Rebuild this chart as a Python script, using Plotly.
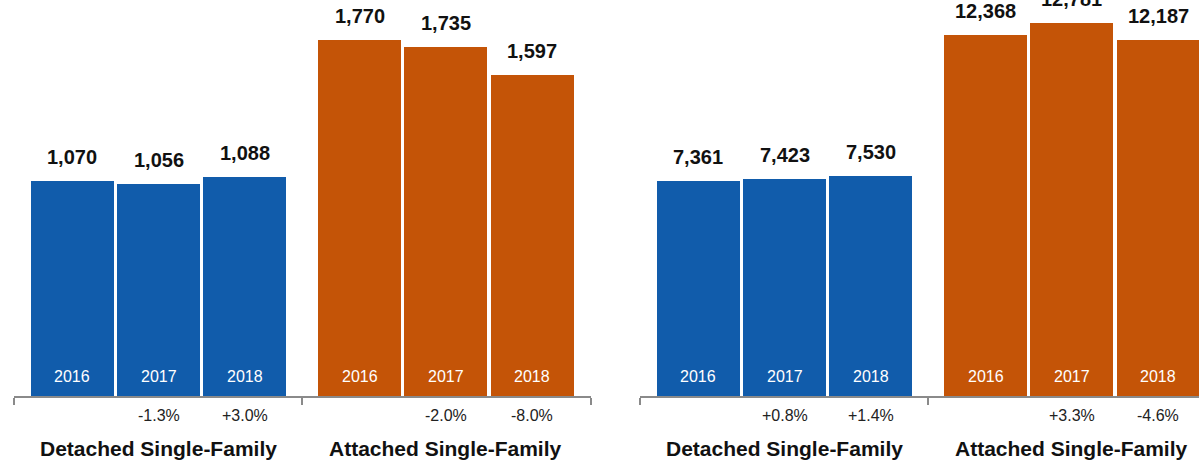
import plotly.graph_objects as go

years = ["2016", "2017", "2018"]
groups = ["Detached Single-Family", "Attached Single-Family"]

left_detached = [1070, 1056, 1088]
left_attached = [1770, 1735, 1597]
left_detached_chg = ["", "-1.3%", "+3.0%"]
left_attached_chg = ["", "-2.0%", "-8.0%"]

right_detached = [7361, 7423, 7530]
right_attached = [12368, 12781, 12187]
right_detached_chg = ["", "+0.8%", "+1.4%"]
right_attached_chg = ["", "+3.3%", "-4.6%"]

BLUE = "#115CAB"
ORANGE = "#C45407"
FONT = "Liberation Sans, Arial, Helvetica, sans-serif"
GROUP_OFFSET = 3.33
BAR_W = 0.96
W, H = 1199, 463

panels = [
    dict(xa="x", ya="y", series=[left_detached, left_attached],
         chg=[left_detached_chg, left_attached_chg], ymax=1971),
    dict(xa="x2", ya="y2", series=[right_detached, right_attached],
         chg=[right_detached_chg, right_attached_chg], ymax=13566),
]
colors = [BLUE, ORANGE]

fig = go.Figure()
annotations = []
for p in panels:
    for g, (vals, chg) in enumerate(zip(p["series"], p["chg"])):
        xs = [i + g * GROUP_OFFSET for i in range(len(vals))]
        fig.add_trace(go.Bar(
            x=xs, y=vals, width=BAR_W, marker=dict(color=colors[g], line=dict(width=0)),
            xaxis=p["xa"], yaxis=p["ya"], showlegend=False, hoverinfo="skip",
        ))
        for x, v, yr, c in zip(xs, vals, years, chg):
            annotations.append(dict(
                x=x, y=v, xref=p["xa"], yref=p["ya"], text=f"<b>{v:,}</b>",
                showarrow=False, yanchor="bottom", yshift=11,
                font=dict(family=FONT, size=20, color="#111111")))
            annotations.append(dict(
                x=x, y=0, xref=p["xa"], yref=p["ya"], text=yr,
                showarrow=False, yanchor="bottom", yshift=9,
                font=dict(family=FONT, size=16, color="white")))
            if c:
                annotations.append(dict(
                    x=x, y=0, xref=p["xa"], yref=p["ya"], text=c,
                    showarrow=False, yanchor="top", yshift=-9,
                    font=dict(family=FONT, size=16, color="#222222")))
        annotations.append(dict(
            x=xs[1], y=0, xref=p["xa"], yref=p["ya"], text=f"<b>{groups[g]}</b>",
            showarrow=False, yanchor="top", yshift=-39,
            font=dict(family=FONT, size=21, color="#111111")))

x_min = -0.676
x_sep = 2 + (GROUP_OFFSET - 2) / 2
x_max = 2 * GROUP_OFFSET + 2 - x_sep + 2 + x_min + (x_sep - 2 - x_min) - (x_sep - 2 - x_min)
x_max = GROUP_OFFSET + 2 + (2 - x_min - 2) + 0  # symmetric end
x_max = GROUP_OFFSET + 2 - x_min
ticks = [x_min, x_sep, x_max]

axis_common = dict(
    showline=True, linecolor="#8a8a8a", linewidth=1.5,
    ticks="outside", ticklen=7, tickwidth=1.5, tickcolor="#8a8a8a",
    tickvals=ticks, showticklabels=False, showgrid=False, zeroline=False,
)
left_px = (14, 590.5)
ppu = (left_px[1] - left_px[0]) / (x_max - x_min)
right_start = 640
right_end_units = x_min + (W - right_start) / ppu

fig.update_layout(
    width=W, height=H,
    margin=dict(l=0, r=0, t=0, b=67),
    paper_bgcolor="white", plot_bgcolor="white",
    bargap=0,
    xaxis=dict(domain=[left_px[0] / W, left_px[1] / W], range=[x_min, x_max], **axis_common),
    xaxis2=dict(domain=[right_start / W, 1], range=[x_min, right_end_units], anchor="y2", **axis_common),
    yaxis=dict(range=[0, panels[0]["ymax"]], visible=False, domain=[0, 1]),
    yaxis2=dict(range=[0, panels[1]["ymax"]], visible=False, domain=[0, 1], anchor="x2"),
    annotations=annotations,
    font=dict(family=FONT),
)

fig.write_html("out.html", config={"displayModeBar": False})
